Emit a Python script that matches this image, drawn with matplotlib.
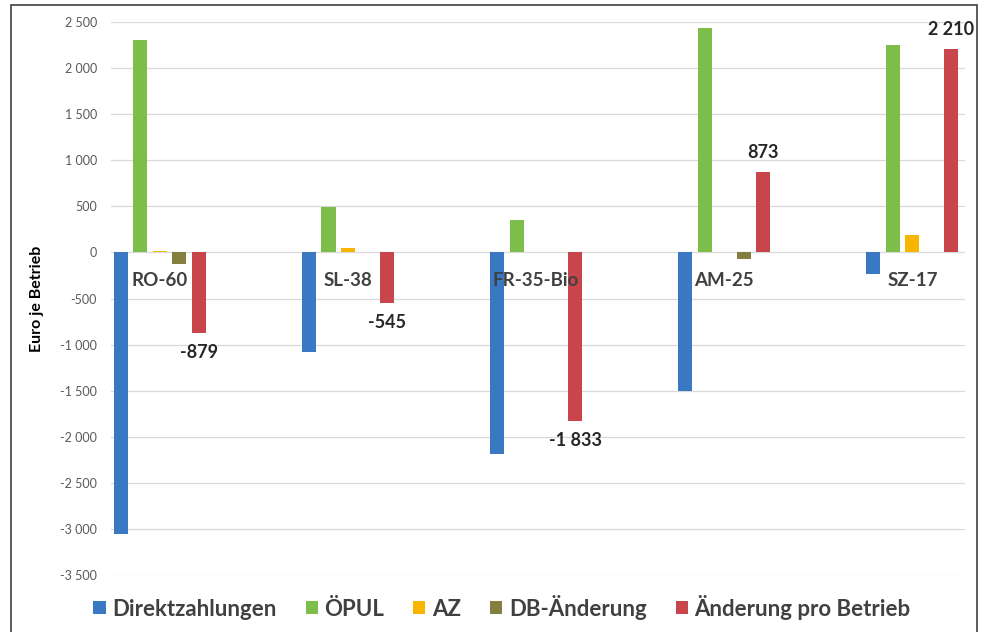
import matplotlib
matplotlib.use("Agg")
import matplotlib.pyplot as plt
from matplotlib.patches import Rectangle
import numpy as np

categories = ["RO-60", "SL-38", "FR-35-Bio", "AM-25", "SZ-17"]
series_names = ["Direktzahlungen", "ÖPUL", "AZ", "DB-Änderung", "Änderung pro Betrieb"]
direkt = [-3060, -1085, -2185, -1500, -230]
oepul = [2300, 497, 347, 2440, 2255]
az = [10, 43, 5, 0, 185]
db = [-129, 0, 0, -67, 0]
aenderung = [-879, -545, -1833, 873, 2210]
aenderung_labels = ["-879", "-545", "-1 833", "873", "2 210"]
yticks = list(range(-3500, 3000, 500))

colors = ["#3B78C4", "#7DBE4B", "#F7B500", "#857F3F", "#C8454B"]
fam = ["Lato", "DejaVu Sans"]
plt.rcParams["font.family"] = fam

fig = plt.figure(figsize=(9.84, 6.32), dpi=100)
ax = fig.add_axes([111/984, 1-575/632, (965-111)/984, (575-22)/632])

x = np.arange(len(categories))
step = 0.1037
width = 0.0745
data = [direkt, oepul, az, db, aenderung]
for i, (name, vals, c) in enumerate(zip(series_names, data, colors)):
    ax.bar(x + (i-2)*step, vals, width, color=c, label=name, zorder=3)

for xi, v, lab in zip(x, aenderung, aenderung_labels):
    off = 14 if v > 0 else -14
    ax.annotate(lab, (xi + 2*step, v), xytext=(0, off), textcoords="offset points",
                ha="center", va="center", fontsize=13, fontweight="bold", color="#262626")

for xi, cat in zip(x, categories):
    ax.text(xi, -300, cat, ha="center", va="center", fontsize=13.5,
            fontweight="bold", color="#404040", zorder=4)

ax.set_ylim(-3500, 2500)
ax.set_xlim(-0.26, 4.28)
ax.set_yticks(yticks)
ax.set_yticklabels([f"{t:,}".replace(",", " ") for t in yticks], fontsize=9, color="#595959")
ax.set_xticks([])
ax.tick_params(axis="y", length=0, pad=10)
ax.grid(axis="y", color="#D9D9D9", linewidth=0.9, zorder=0)
for s in ax.spines.values():
    s.set_visible(False)
ax.set_ylabel("Euro je Betrieb", fontsize=11.5, color="#000000", fontweight="bold", labelpad=12)

handles, labels = ax.get_legend_handles_labels()
fig.legend(handles, labels, loc="center", bbox_to_anchor=(502/984, 1-607/632), ncol=5,
           frameon=False, prop={"size": 16, "weight": "bold"}, handlelength=0.55, handleheight=0.55,
           handletextpad=0.3, columnspacing=1.3, labelcolor="#404040")

fig.patches.append(Rectangle((11/984, -0.05), (977-11)/984, 1-5/632+0.05, transform=fig.transFigure,
                             fill=False, edgecolor="#404040", linewidth=1.2))

fig.savefig("out.png", dpi=100)
